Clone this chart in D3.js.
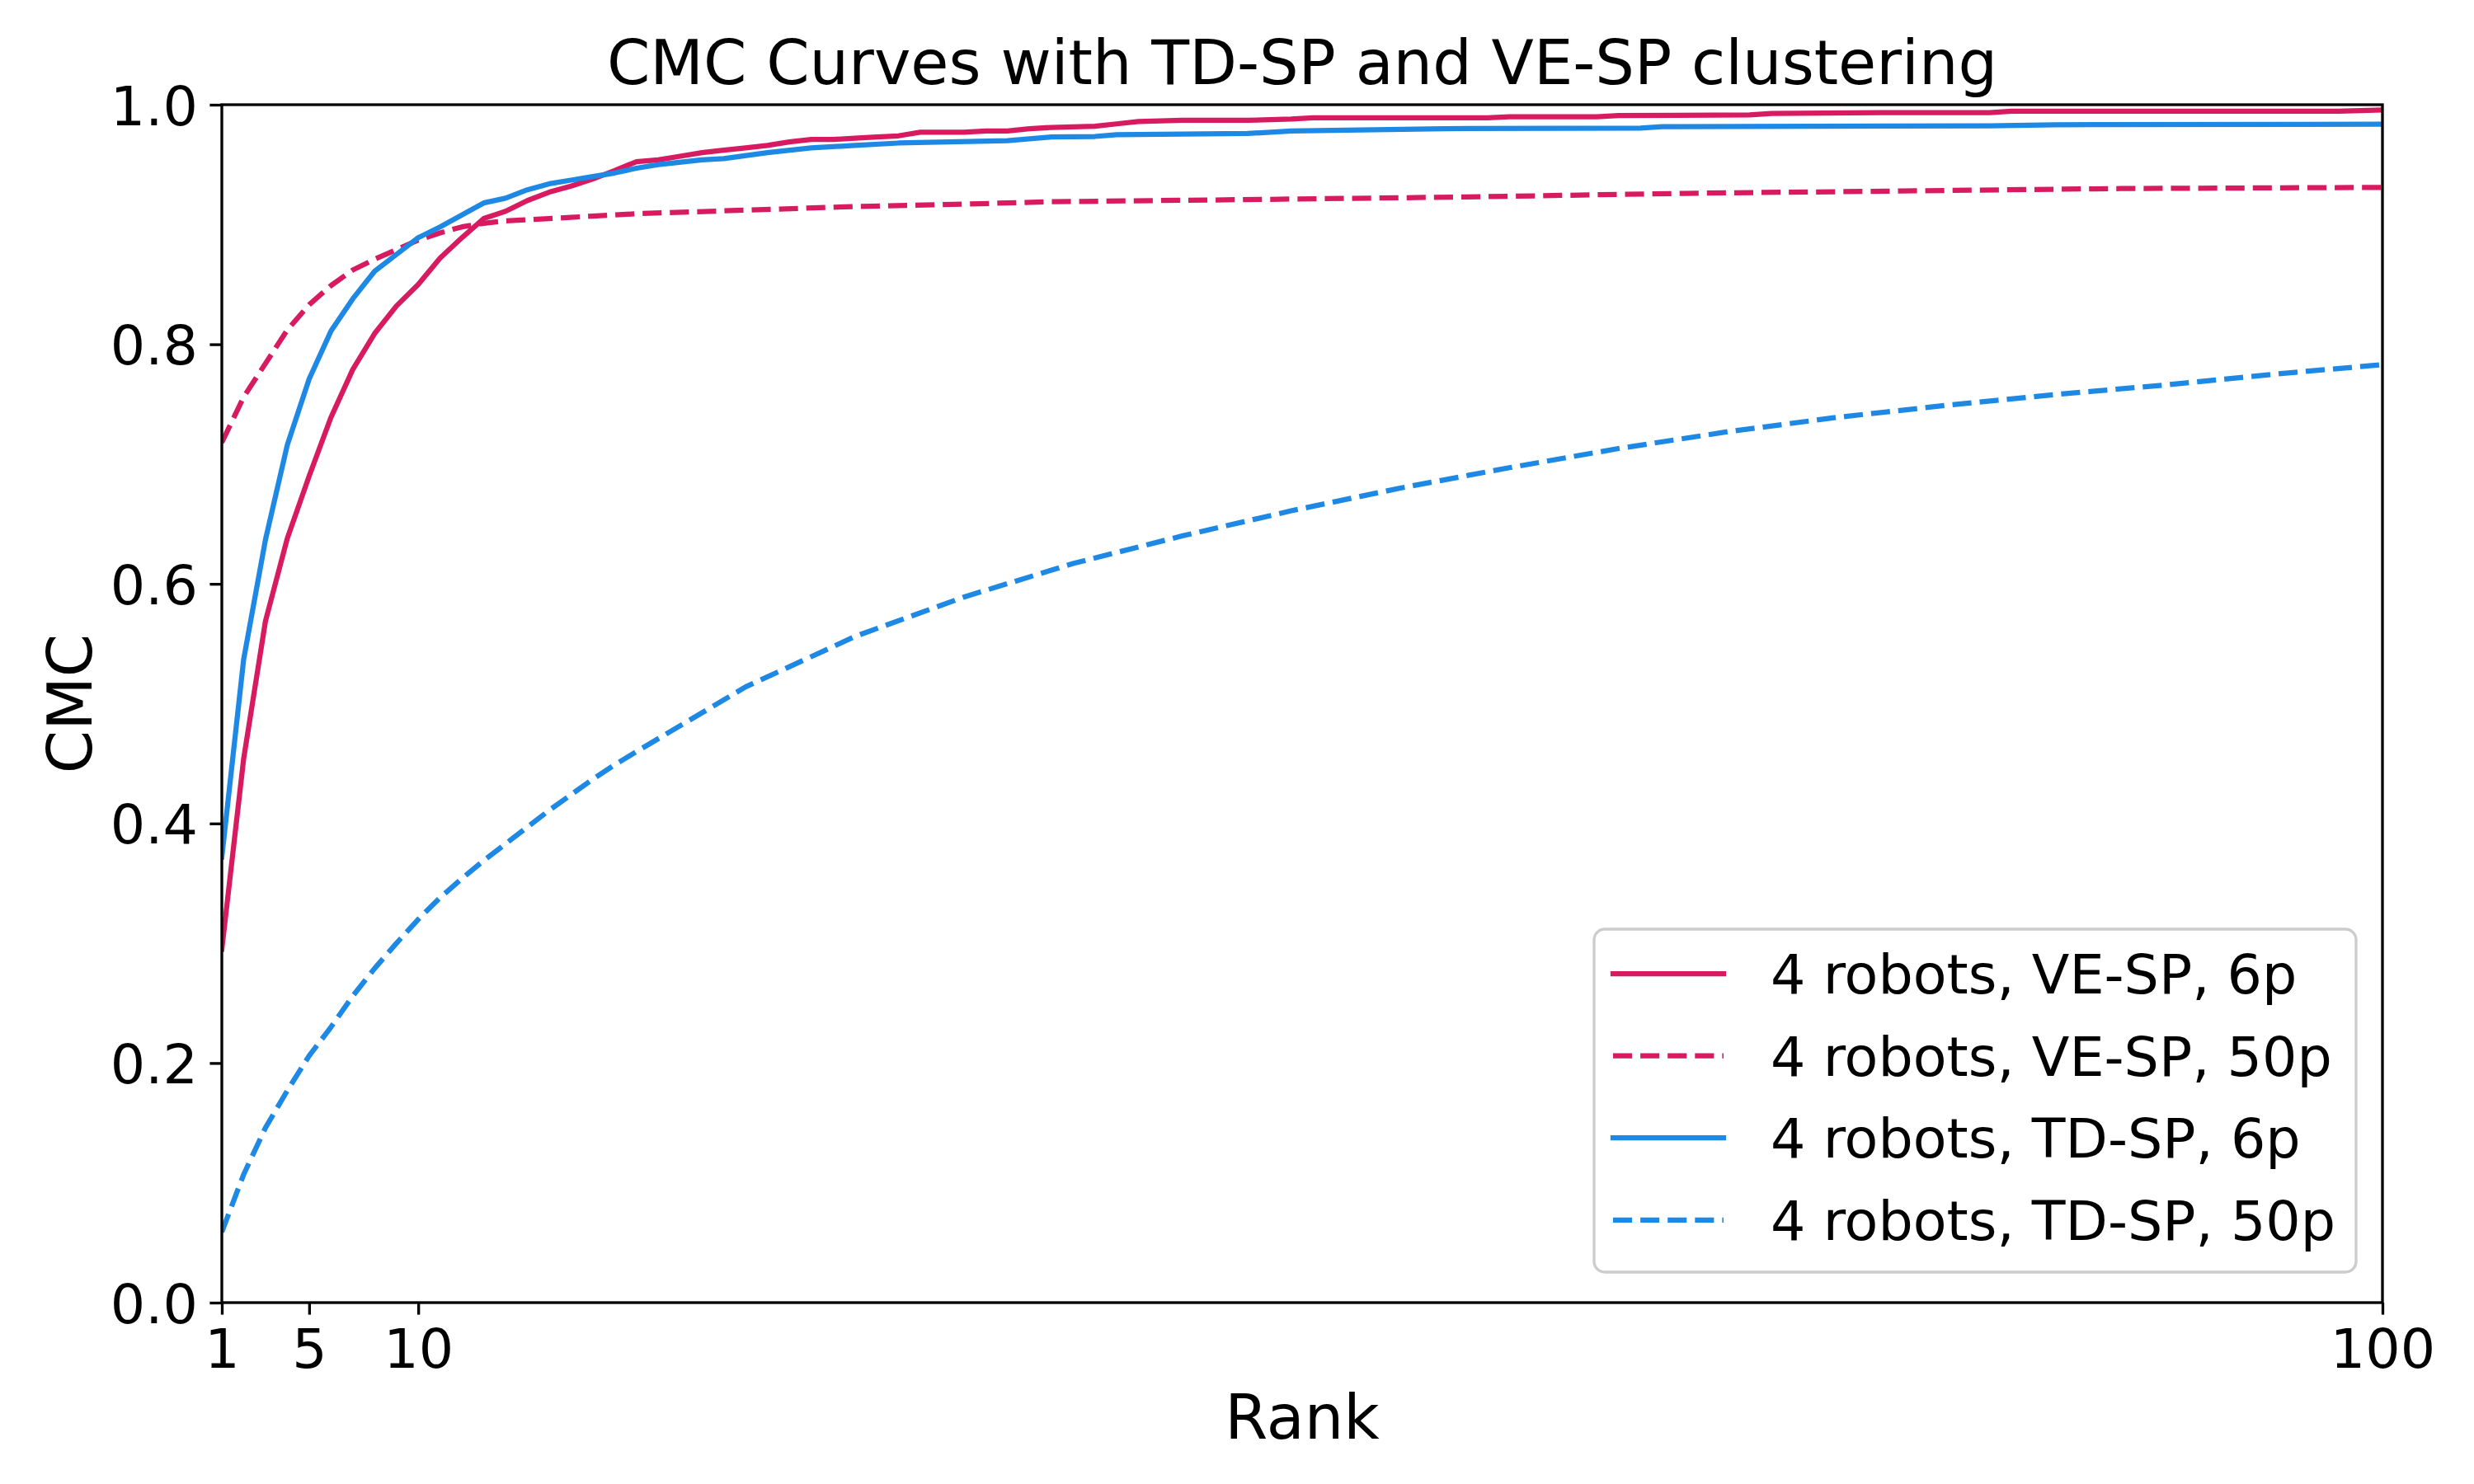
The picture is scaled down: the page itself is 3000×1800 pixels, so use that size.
<!DOCTYPE html>
<html>
<head>
<meta charset="utf-8">
<script src="https://cdn.jsdelivr.net/npm/d3@7"></script>
<style>
  html, body { margin: 0; padding: 0; background: #fff; }
  svg { display: block; }
  text { font-family: "DejaVu Sans", sans-serif; fill: #000; }
</style>
</head>
<body>
<svg id="chart" width="3000" height="1800"></svg>
<script>
// ---------- data ----------
const xTicks = [1, 5, 10, 100];
const yTicks = [0.0, 0.2, 0.4, 0.6, 0.8, 1.0];

const ve6Ranks = [1,2,3,4,5,6,7,8,9,10,11,12,13,14,15,16,17,18,19,20,21,22,23,24,25,26,27,28,29,30,31,32,33,34,35,36,37,38,39,41,42,43,45,48,50,51,59,60,64,65,71,72,77,82,83,98,100];
const ve6Values = [0.295,0.454,0.569,0.638,0.690,0.739,0.779,0.809,0.832,0.850,0.872,0.889,0.905,0.911,0.920,0.927,0.932,0.938,0.945,0.9525,0.954,0.957,0.960,0.962,0.964,0.966,0.969,0.971,0.971,0.972,0.973,0.974,0.977,0.977,0.977,0.978,0.978,0.980,0.981,0.982,0.984,0.986,0.987,0.987,0.988,0.989,0.989,0.990,0.990,0.991,0.9915,0.9927,0.9933,0.9933,0.9945,0.9945,0.9956];

const ve50Ranks = [1,2,3,4,5,6,7,8,9,10,11,12,13,14,15,16,17,18,19,20,25,30,35,39,49,58,68,78,88,100];
const ve50Values = [0.718,0.756,0.784,0.812,0.833,0.849,0.862,0.871,0.879,0.887,0.893,0.898,0.901,0.903,0.904,0.905,0.906,0.907,0.908,0.909,0.912,0.915,0.917,0.919,0.921,0.923,0.926,0.928,0.930,0.931];

const td6Ranks = [1,2,3,4,5,6,7,8,9,10,11,12,13,14,15,16,17,18,19,20,21,23,24,26,28,30,32,37,39,41,42,48,50,57,66,67,82,85,100];
const td6Values = [0.372,0.537,0.637,0.716,0.771,0.811,0.838,0.861,0.875,0.889,0.898,0.908,0.918,0.922,0.929,0.934,0.937,0.940,0.943,0.947,0.950,0.954,0.955,0.960,0.964,0.966,0.968,0.970,0.973,0.9735,0.975,0.976,0.978,0.980,0.9805,0.9817,0.9823,0.9833,0.9837];

const td50Ranks = [1,2,3,4,5,6,7,8,9,10,11,12,13,14,15,16,17,18,19,20,25,30,35,40,45,50,55,60,65,70,75,80,85,90,95,100];
const td50Values = [0.059,0.107,0.146,0.177,0.206,0.230,0.256,0.279,0.300,0.320,0.338,0.354,0.369,0.383,0.397,0.411,0.424,0.437,0.449,0.460,0.514,0.556,0.589,0.617,0.640,0.661,0.680,0.697,0.713,0.727,0.739,0.749,0.758,0.766,0.775,0.783];

const seriesNames = ["4 robots, VE-SP, 6p", "4 robots, VE-SP, 50p", "4 robots, TD-SP, 6p", "4 robots, TD-SP, 50p"];
const seriesColors = ["#D81B60", "#D81B60", "#1E88E5", "#1E88E5"];
const seriesDashed = [false, true, false, true];

const titleText = "CMC Curves with TD-SP and VE-SP clustering";
const xLabel = "Rank";
const yLabel = "CMC";

// ---------- layout ----------
const L = 269, R = 2889, T = 127, B = 1580;
const tickFont = 66.7, labelFont = 75, legendFont = 66.7;
const lw = 6.25, spineW = 3.33, tickLen = 14.6, tickPad = 14.6;
const dash = "23.1,10";

const svg = d3.select("#chart");
const x = d3.scaleLinear().domain([1, 100]).range([L, R]);
const y = d3.scaleLinear().domain([0, 1]).range([B, T]);

const series = [
  {ranks: ve6Ranks, values: ve6Values},
  {ranks: ve50Ranks, values: ve50Values},
  {ranks: td6Ranks, values: td6Values},
  {ranks: td50Ranks, values: td50Values}
].map((s, i) => ({
  name: seriesNames[i], color: seriesColors[i], dashed: seriesDashed[i],
  points: s.ranks.map((r, j) => [r, s.values[j]])
}));

svg.append("defs").append("clipPath").attr("id", "plotclip")
  .append("rect").attr("x", L).attr("y", T).attr("width", R - L).attr("height", B - T);

const line = d3.line().x(d => x(d[0])).y(d => y(d[1]));

const g = svg.append("g").attr("clip-path", "url(#plotclip)");
series.forEach(s => {
  g.append("path")
    .attr("d", line(s.points))
    .attr("fill", "none")
    .attr("stroke", s.color)
    .attr("stroke-width", lw)
    .attr("stroke-linejoin", "round")
    .attr("stroke-linecap", s.dashed ? "butt" : "square")
    .attr("stroke-dasharray", s.dashed ? dash : null);
});

// ---------- axes ----------
const xAxis = d3.axisBottom(x).tickValues(xTicks).tickFormat(d3.format("d"))
  .tickSize(tickLen).tickPadding(tickPad);
const yAxis = d3.axisLeft(y).tickValues(yTicks).tickFormat(d3.format(".1f"))
  .tickSize(tickLen).tickPadding(tickPad);

const gx = svg.append("g").attr("transform", `translate(0,${B})`).call(xAxis);
const gy = svg.append("g").attr("transform", `translate(${L},0)`).call(yAxis);
[gx, gy].forEach(a => {
  a.select(".domain").remove();
  a.selectAll(".tick line").attr("stroke", "#000").attr("stroke-width", spineW);
  a.selectAll(".tick text").attr("font-size", tickFont)
    .attr("font-family", "DejaVu Sans").attr("fill", "#000");
});
gx.selectAll(".tick text").attr("dy", "0.74em");
gy.selectAll(".tick text").attr("dy", "0.36em");

// spines
svg.append("rect").attr("x", L).attr("y", T).attr("width", R - L).attr("height", B - T)
  .attr("fill", "none").attr("stroke", "#000").attr("stroke-width", spineW);

// ---------- texts ----------
svg.append("text").attr("x", (L + R) / 2).attr("y", 102).attr("text-anchor", "middle")
  .attr("font-size", labelFont).text(titleText);
svg.append("text").attr("x", (L + R) / 2).attr("y", 1745).attr("text-anchor", "middle")
  .attr("font-size", labelFont).text(xLabel);
svg.append("text").attr("transform", `translate(111,${(T + B) / 2}) rotate(-90)`)
  .attr("text-anchor", "middle").attr("font-size", labelFont).text(yLabel);

// ---------- legend ----------
const lgX = 1933, lgY = 1127, lgW = 2857 - 1933, lgH = 1543 - 1127;
const lg = svg.append("g");
lg.append("rect").attr("x", lgX).attr("y", lgY).attr("width", lgW).attr("height", lgH)
  .attr("rx", 13).attr("ry", 13)
  .attr("fill", "#fff").attr("fill-opacity", 0.8)
  .attr("stroke", "#cccccc").attr("stroke-width", spineW);
const rowY0 = 1181, rowStep = 99.6;
series.forEach((s, i) => {
  const cy = rowY0 + i * rowStep;
  lg.append("line").attr("x1", 1956).attr("x2", 2090).attr("y1", cy).attr("y2", cy)
    .attr("stroke", s.color).attr("stroke-width", lw)
    .attr("stroke-linecap", s.dashed ? "butt" : "square")
    .attr("stroke-dasharray", s.dashed ? dash : null);
  lg.append("text").attr("x", 2147).attr("y", cy + 24).attr("font-size", legendFont).text(s.name);
});
</script>
</body>
</html>
